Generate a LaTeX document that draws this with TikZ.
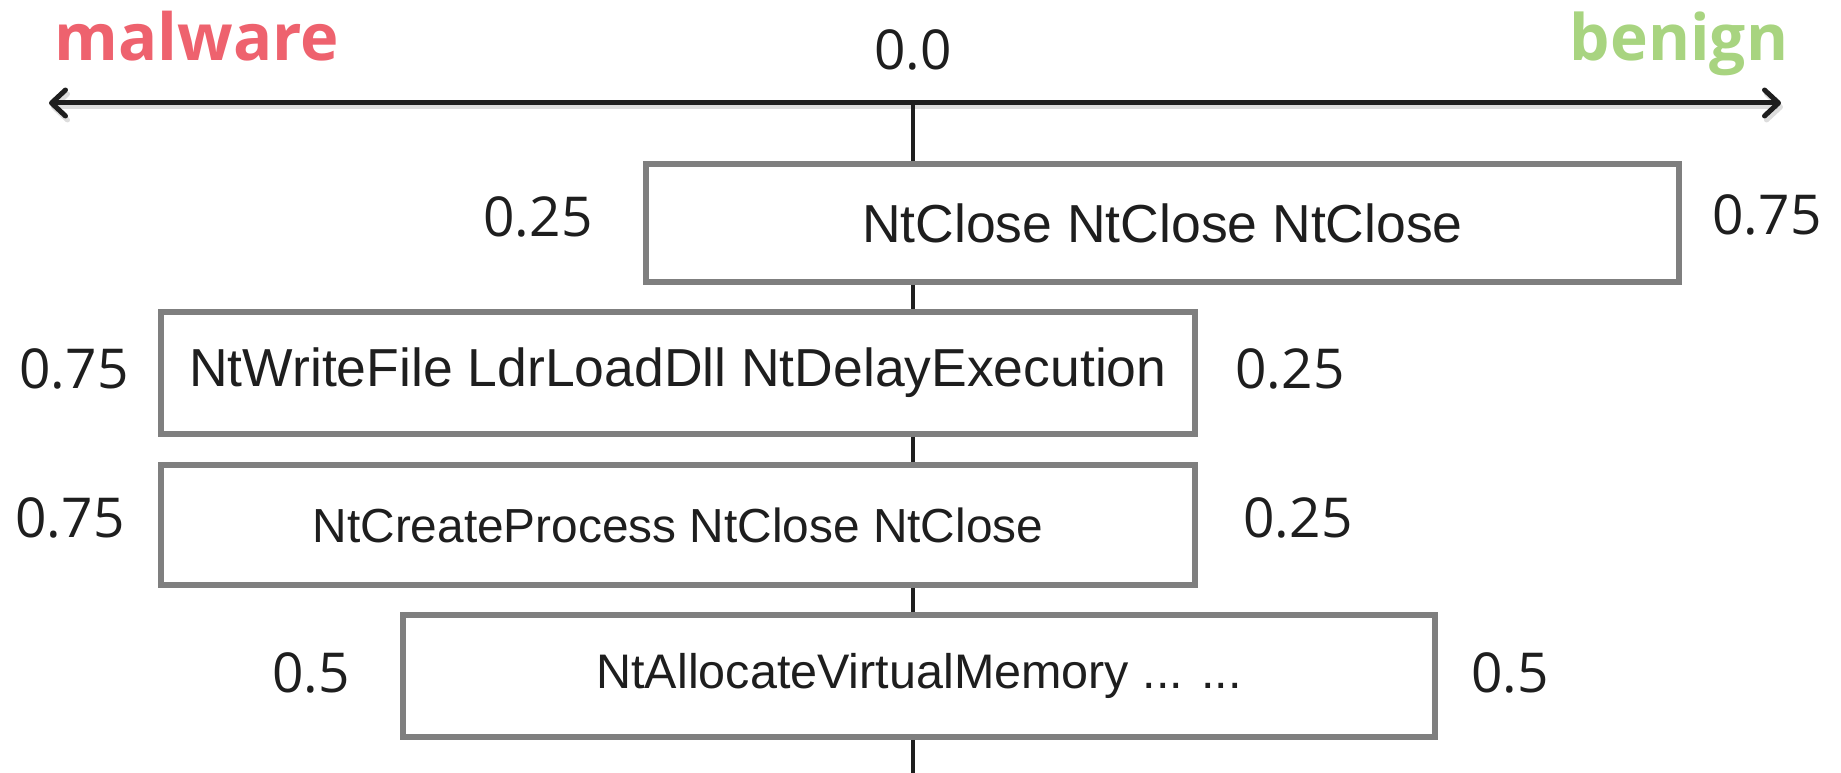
\documentclass[tikz,border=0pt]{standalone}
\usepackage{fontspec}
\setmainfont{Liberation Sans}
\newfontfamily\numfont{Open Sans}
\newfontfamily\titlefont{Open Sans}
\usetikzlibrary{arrows.meta}
\definecolor{malred}{HTML}{EE626E}
\definecolor{bengreen}{HTML}{A8D480}
\definecolor{boxgray}{HTML}{7F7F7F}
\definecolor{ink}{HTML}{1E1E1E}
\tikzset{
  seqbox/.style={draw=boxgray, line width=5.5pt, fill=white, inner sep=0pt, text=ink},
  numlbl/.style={inner sep=0pt, text=ink, font=\numfont\fontsize{55}{60}\selectfont},
  axisline/.style={line width=5pt, ink},
  stem/.style={line width=4.5pt, ink},
  shade/.style={line width=5pt, black!22, opacity=0.6},
  barb/.tip={Straight Barb[length=14pt, width=26pt, line cap=round, line join=round]}
}
\begin{document}
\begin{tikzpicture}[x=1pt,y=-1pt]
\useasboundingbox (0,0) rectangle (1841,773);
% title labels
\node[anchor=base, inner sep=0pt, text=malred, font=\titlefont\bfseries\fontsize{65}{70}\selectfont] (mal) at (197,61) {malware};
\node[anchor=base, inner sep=0pt, text=bengreen, font=\titlefont\bfseries\fontsize{64}{70}\selectfont] (ben) at (1679,61) {benign};
\node[anchor=base, numlbl] (zero) at (913,70) {0.0};
% axis
\coordinate (axL) at (49,103);
\coordinate (axR) at (1781,103);
\coordinate (axC) at (913,103);
\coordinate (bot) at (913,773);
\draw[shade, barb-barb, transform canvas={shift={(2pt,-4pt)}}] (axL) -- (axR);
\draw[axisline, barb-barb] (axL) -- (axR);
% boxes
\node[seqbox, minimum width=1033pt, minimum height=118pt] (b1) at (1162.5,223) {\fontsize{53.5}{60}\selectfont NtClose NtClose NtClose};
\node[seqbox, minimum width=1034pt, minimum height=122pt] (b2) at (678,373) {\fontsize{53.5}{60}\selectfont NtWriteFile LdrLoadDll NtDelayExecution};
\node[seqbox, minimum width=1034pt, minimum height=120pt] (b3) at (678,525) {\fontsize{47.8}{54}\selectfont NtCreateProcess NtClose NtClose};
\node[seqbox, minimum width=1032pt, minimum height=122pt] (b4) at (919,676) {\fontsize{48.5}{54}\selectfont NtAllocateVirtualMemory ... ...};
% stem connectors
\draw[stem] (axC) -- (axC |- b1.north);
\draw[stem] (b1.south -| axC) -- (b2.north -| axC);
\draw[stem] (b2.south -| axC) -- (b3.north -| axC);
\draw[stem] (b3.south -| axC) -- (b4.north -| axC);
\draw[stem] (b4.south -| axC) -- (bot);
% probability labels
\node[numlbl] (l1) at (538,217) {0.25};
\node[numlbl] (r1) at (1767,215) {0.75};
\node[numlbl] (l2) at (74,369) {0.75};
\node[numlbl] (r2) at (1290,369) {0.25};
\node[numlbl] (l3) at (70,518) {0.75};
\node[numlbl] (r3) at (1298,518) {0.25};
\node[numlbl] (l4) at (311,673) {0.5};
\node[numlbl] (r4) at (1510,673) {0.5};
\end{tikzpicture}
\end{document}
